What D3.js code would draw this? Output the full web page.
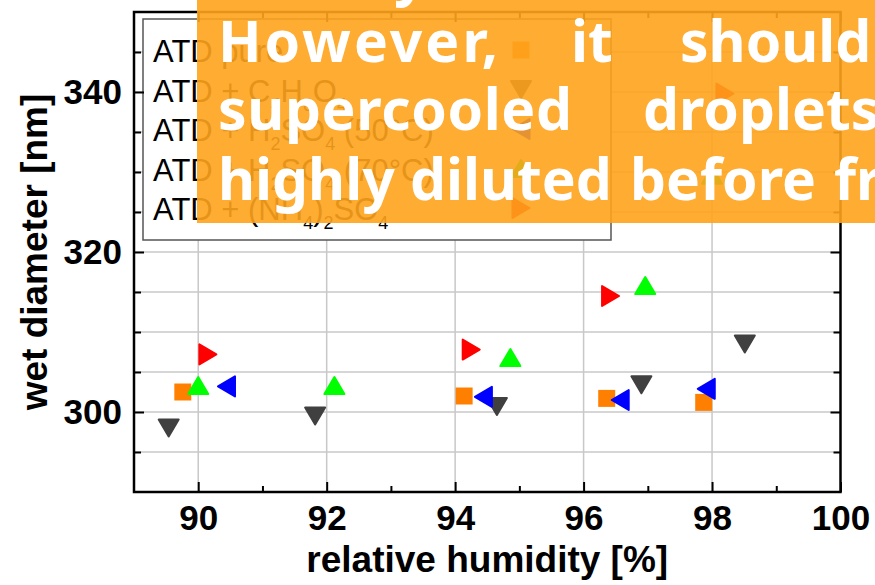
<!DOCTYPE html>
<html>
<head>
<meta charset="utf-8">
<script src="https://cdn.jsdelivr.net/npm/d3@7"></script>
<style>
  body { margin: 0; background: #fff; }
  svg { display: block; }
</style>
</head>
<body>
<svg id="chart" width="875" height="585"></svg>
<script>
// Wet diameter of coated ATD particles versus relative humidity
const rhPure   = [89.76, 94.14, 96.36, 97.87];
const dPure    = [302.5, 302.0, 301.7, 301.2];

const rhSuccinic = [89.54, 91.82, 94.65, 96.90, 98.51];
const dSuccinic  = [298.0, 299.5, 300.7, 303.4, 308.5];

const rhSulf50 = [90.44, 94.44, 96.57, 97.91];
const dSulf50  = [303.2, 301.9, 301.5, 302.9];

const rhSulf70 = [90.00, 92.12, 94.86, 96.96, 98.00];
const dSulf70  = [303.3, 303.3, 306.8, 315.8, 329.6];

const rhAmmSulf = [90.15, 94.25, 96.42, 98.20];
const dAmmSulf  = [307.2, 307.8, 314.5, 339.8];

const xMajorTicks = [90, 92, 94, 96, 98, 100];
const xMinorTicks = [91, 93, 95, 97, 99];
const yMajorTicks = [300, 320, 340];
const yMinorTicks = [295, 305, 310, 315, 325, 330, 335, 345];
const xGridValues = [90, 92, 94, 96, 98];
const yGridValues = [295, 300, 305, 310, 315, 320, 325, 330, 335, 340, 345];

// Legend labels as [text, isSubscript] segments
const legendLabels = [
  [["ATD pure", false]],
  [["ATD + C", false], ["4", true], ["H", false], ["6", true], ["O", false], ["4", true]],
  [["ATD + H", false], ["2", true], ["SO", false], ["4", true], [" (50°C)", false]],
  [["ATD + H", false], ["2", true], ["SO", false], ["4", true], [" (70°C)", false]],
  [["ATD + (NH", false], ["4", true], [")", false], ["2", true], ["SO", false], ["4", true]]
];

const series = [
  { xs: rhPure,     ys: dPure,     shape: "square", color: "#ff8000" },
  { xs: rhSuccinic, ys: dSuccinic, shape: "down",   color: "#404040" },
  { xs: rhSulf50,   ys: dSulf50,   shape: "left",   color: "#0000ff" },
  { xs: rhSulf70,   ys: dSulf70,   shape: "up",     color: "#00ff00" },
  { xs: rhAmmSulf,  ys: dAmmSulf,  shape: "right",  color: "#ff0000" }
];

// Banner text lines: words with their left positions (and optional fitted width)
const bannerLines = [
  { baseline: -6, words: [["y", 394]] },
  { baseline: 62, words: [["However,", 218, 280], ["it", 571], ["should", 680]] },
  { baseline: 130, words: [["supercooled", 218, 354], ["droplets", 643]] },
  { baseline: 200, words: [["highly", 218], ["diluted", 410], ["before", 630], ["freezing", 834]] }
];

const svg = d3.select("#chart");
const plotL = 134, plotR = 840.5, plotT = 12, plotB = 492;

const x = d3.scaleLinear().domain([89, 100]).range([plotL, plotR]);
const y = d3.scaleLinear().domain([290, 350]).range([plotB, plotT]);

const axisFont = "'Liberation Sans', Arial, sans-serif";

// grid
const grid = svg.append("g").attr("stroke", "#c8c8c8").attr("stroke-width", 1.5);
grid.selectAll("line.v").data(xGridValues).join("line").attr("class", "v")
  .attr("x1", d => x(d)).attr("x2", d => x(d)).attr("y1", plotT).attr("y2", plotB);
grid.selectAll("line.h").data(yGridValues).join("line").attr("class", "h")
  .attr("x1", plotL).attr("x2", plotR).attr("y1", d => y(d)).attr("y2", d => y(d));

// marker geometry, centred on its bounding box
function markerPath(shape, cx, cy) {
  const w = 20, h = 17;
  switch (shape) {
    case "square": {
      const s = 8.5;
      return `M${cx - s},${cy - s}H${cx + s}V${cy + s}H${cx - s}Z`;
    }
    case "up":
      return `M${cx - w / 2},${cy + h / 2}L${cx + w / 2},${cy + h / 2}L${cx},${cy - h / 2}Z`;
    case "down":
      return `M${cx - w / 2},${cy - h / 2}L${cx + w / 2},${cy - h / 2}L${cx},${cy + h / 2}Z`;
    case "left":
      return `M${cx + h / 2},${cy - w / 2}L${cx + h / 2},${cy + w / 2}L${cx - h / 2},${cy}Z`;
    case "right":
      return `M${cx - h / 2},${cy - w / 2}L${cx - h / 2},${cy + w / 2}L${cx + h / 2},${cy}Z`;
  }
}

const marks = svg.append("g");
series.forEach(s => {
  const pts = s.xs.map((v, i) => [v, s.ys[i]]);
  marks.append("g").selectAll("path").data(pts).join("path")
    .attr("d", d => markerPath(s.shape, x(d[0]), y(d[1])))
    .attr("fill", s.color)
    .attr("stroke", s.shape === "square" ? "none" : s.color)
    .attr("stroke-width", 2)
    .attr("stroke-linejoin", "round");
});

// legend
const legend = svg.append("g");
legend.append("rect")
  .attr("x", 143).attr("y", 19).attr("width", 468).attr("height", 221)
  .attr("fill", "#fff").attr("stroke", "#555").attr("stroke-width", 1.5);

legendLabels.forEach((segs, i) => {
  const by = 62 + i * 39.5;
  const t = legend.append("text")
    .attr("x", 153).attr("y", by)
    .attr("font-family", axisFont).attr("font-size", 31).attr("fill", "#000");
  let shifted = false;
  segs.forEach(([txt, sub]) => {
    const ts = t.append("tspan").text(txt);
    if (sub && !shifted) { ts.attr("dy", 9).attr("font-size", 18); shifted = true; }
    else if (sub) { ts.attr("font-size", 18); }
    else if (!sub && shifted) { ts.attr("dy", -9); shifted = false; }
  });
  const s = series[i];
  legend.append("path")
    .attr("d", markerPath(s.shape, 521, by - 12))
    .attr("fill", s.color)
    .attr("stroke", s.shape === "square" ? "none" : s.color)
    .attr("stroke-width", 2)
    .attr("stroke-linejoin", "round");
});

// axes: ticks point inward
function styleAxis(g) {
  g.select(".domain").remove();
  g.selectAll(".tick line").attr("stroke", "#000").attr("stroke-width", 2);
  g.selectAll(".tick text")
    .attr("font-family", axisFont).attr("font-size", 35)
    .attr("font-weight", "bold").attr("fill", "#000");
}

svg.append("g").attr("transform", `translate(0,${plotB})`)
  .call(d3.axisBottom(x).tickValues(xMajorTicks).tickSize(-10).tickSizeOuter(0)
    .tickPadding(13).tickFormat(d3.format("d")))
  .call(styleAxis);
svg.append("g").attr("transform", `translate(0,${plotB})`)
  .call(d3.axisBottom(x).tickValues(xMinorTicks).tickSize(-6).tickSizeOuter(0).tickFormat(""))
  .call(styleAxis);
svg.append("g").attr("transform", `translate(0,${plotT})`)
  .call(d3.axisTop(x).tickValues(xMajorTicks).tickSize(-10).tickSizeOuter(0).tickFormat(""))
  .call(styleAxis);
svg.append("g").attr("transform", `translate(0,${plotT})`)
  .call(d3.axisTop(x).tickValues(xMinorTicks).tickSize(-6).tickSizeOuter(0).tickFormat(""))
  .call(styleAxis);

svg.append("g").attr("transform", `translate(${plotL},0)`)
  .call(d3.axisLeft(y).tickValues(yMajorTicks).tickSize(-10).tickSizeOuter(0)
    .tickPadding(12).tickFormat(d3.format("d")))
  .call(styleAxis);
svg.append("g").attr("transform", `translate(${plotL},0)`)
  .call(d3.axisLeft(y).tickValues(yMinorTicks).tickSize(-7).tickSizeOuter(0).tickFormat(""))
  .call(styleAxis);
svg.append("g").attr("transform", `translate(${plotR},0)`)
  .call(d3.axisRight(y).tickValues(yMajorTicks).tickSize(-10).tickSizeOuter(0).tickFormat(""))
  .call(styleAxis);
svg.append("g").attr("transform", `translate(${plotR},0)`)
  .call(d3.axisRight(y).tickValues(yMinorTicks).tickSize(-7).tickSizeOuter(0).tickFormat(""))
  .call(styleAxis);

// frame
svg.append("rect")
  .attr("x", plotL).attr("y", plotT).attr("width", plotR - plotL).attr("height", plotB - plotT)
  .attr("fill", "none").attr("stroke", "#000").attr("stroke-width", 2.5);

// axis titles
svg.append("text")
  .attr("x", (plotL + plotR) / 2).attr("y", 572)
  .attr("text-anchor", "middle")
  .attr("font-family", axisFont).attr("font-size", 37).attr("font-weight", "bold")
  .text("relative humidity [%]");
svg.append("text")
  .attr("transform", `translate(47,${(plotT + plotB) / 2}) rotate(-90)`)
  .attr("text-anchor", "middle")
  .attr("font-family", axisFont).attr("font-size", 37).attr("font-weight", "bold")
  .text("wet diameter [nm]");

// translucent banner with text
const banner = svg.append("g");
banner.append("rect")
  .attr("x", 197).attr("y", 0).attr("width", 678).attr("height", 223)
  .attr("fill", "rgb(254,163,28)").attr("fill-opacity", 0.9);
bannerLines.forEach(line => {
  line.words.forEach(([w, wx, len]) => {
    const t = banner.append("text")
      .attr("x", wx).attr("y", line.baseline)
      .attr("font-family", "'Noto Sans', sans-serif")
      .attr("font-size", 57).attr("font-weight", "bold")
      .attr("fill", "#fff")
      .text(w);
    if (len) t.attr("textLength", len).attr("lengthAdjust", "spacing");
  });
});
</script>
</body>
</html>
